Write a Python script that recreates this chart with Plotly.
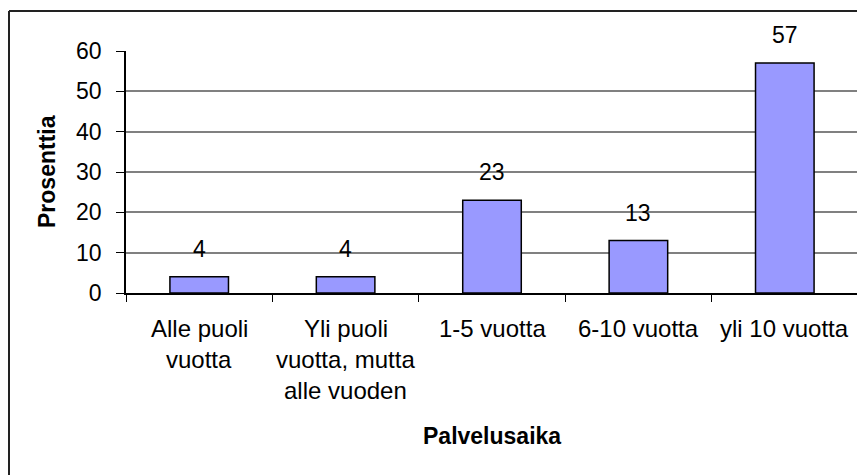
import plotly.graph_objects as go

categories = ["Alle puoli vuotta", "Yli puoli vuotta, mutta alle vuoden",
              "1-5 vuotta", "6-10 vuotta", "yli 10 vuotta"]
label_lines = [["Alle puoli", "vuotta"],
               ["Yli puoli", "vuotta, mutta", "alle vuoden"],
               ["1-5 vuotta"], ["6-10 vuotta"], ["yli 10 vuotta"]]
percent = [4, 4, 23, 13, 57]

# the page adds an 8px body margin, so the figure is 8px smaller
W, H = 857, 467
L, R, T, B = 118, 7, 43, 182
pw, ph = W - L - R, H - T - B
FONT = "Liberation Sans, Arial, sans-serif"

fig = go.Figure()
fig.add_trace(go.Bar(
    x=categories, y=percent,
    marker=dict(color="#9999FF", line=dict(color="black", width=1.5)),
    showlegend=False, hoverinfo="x+y",
))

annotations = []
# value labels above the bars
for cat, val in zip(categories, percent):
    annotations.append(dict(x=cat, y=val, text=str(val), showarrow=False,
                            yanchor="middle", yshift=28,
                            font=dict(size=23, color="black")))
# category labels, one annotation per line for Excel-like spacing
for cat, lines in zip(categories, label_lines):
    for i, line in enumerate(lines):
        annotations.append(dict(x=cat, y=0, yref="paper", text=line,
                                showarrow=False, yanchor="middle",
                                yshift=-(35 + 31 * i),
                                font=dict(size=24, color="black")))
annotations.append(dict(x=0.5, y=0, yref="paper", xref="paper",
                        text="<b>Palvelusaika</b>", showarrow=False,
                        yanchor="middle", yshift=-143,
                        font=dict(size=23, color="black")))
annotations.append(dict(x=0, y=0.5, yref="paper", xref="paper",
                        text="<b>Prosenttia</b>", showarrow=False, textangle=-90,
                        xanchor="center", xshift=-79,
                        font=dict(size=23, color="black")))

# outer frame (only top and left edges are visible in the picture)
fx = (1 - L) / pw
fy = (H - B - 3) / ph
shapes = [
    dict(type="line", xref="paper", yref="paper", x0=fx, x1=(W - L) / pw,
         y0=fy, y1=fy, line=dict(color="#222222", width=2)),
    dict(type="line", xref="paper", yref="paper", x0=fx, x1=fx,
         y0=fy, y1=-(B + 5) / ph, line=dict(color="#222222", width=2)),
    dict(type="line", xref="paper", yref="paper", x0=1, x1=1,
         y0=0, y1=1, line=dict(color="#808080", width=1.5)),
]

fig.update_layout(
    width=W, height=H,
    margin=dict(l=L, r=R, t=T, b=B),
    paper_bgcolor="white", plot_bgcolor="white",
    font=dict(family=FONT, size=23, color="black"),
    bargap=0.6,
    annotations=annotations,
    shapes=shapes,
    xaxis=dict(showticklabels=False, showline=True, linecolor="black",
               linewidth=1.5, ticks="outside", tickson="boundaries",
               ticklen=7, tickcolor="black", showgrid=False),
    yaxis=dict(range=[0, 60], dtick=10, showline=True, linecolor="black",
               linewidth=1.5, ticks="outside", ticklen=8, tickcolor="black",
               showgrid=True, gridcolor="#808080", gridwidth=1.5,
               zeroline=False, ticklabelstandoff=10),
)

fig.write_html("out.html")
